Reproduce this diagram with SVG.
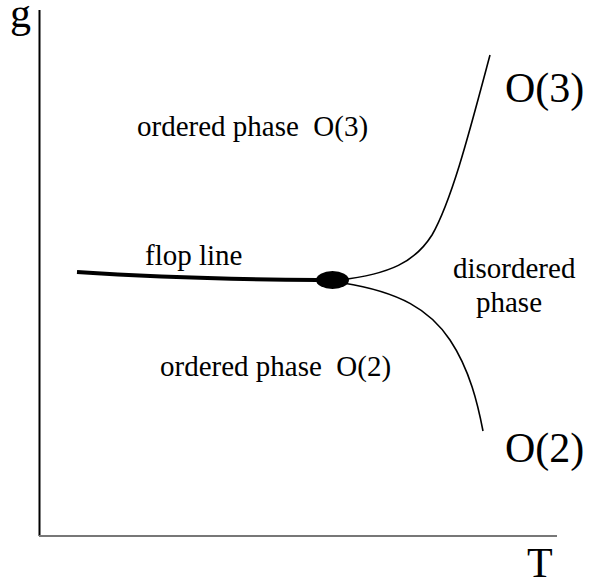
<svg xmlns="http://www.w3.org/2000/svg" width="592" height="582" viewBox="0 0 592 582">
<style>
text{font-family:"Liberation Serif","Times New Roman",serif;fill:#000;white-space:pre}
.s{font-size:29px}
.b{font-size:42px}
.ln{fill:none;stroke:#000}
</style>
<rect width="592" height="582" fill="#fff"/>
<g id="axes">
<line class="ln" x1="39.5" y1="10" x2="39.5" y2="536" stroke-width="2"/>
<line x1="39" y1="536" x2="557" y2="536" stroke="#777" stroke-width="2"/>
<text id="g-label" class="b" x="10" y="27">g</text>
<text id="T-label" class="b" x="527" y="577">T</text>
</g>
<g id="connectors">
<path id="flop" class="ln" stroke-width="4" d="M77,272 Q180,279 318,280"/>
<path id="o3line" class="ln" stroke-width="1.6" d="M340,280 C390,274 415,262 432,235 C452,200 470,130 490,55"/>
<path id="o2line" class="ln" stroke-width="1.6" d="M343,283 C400,292 430,310 450,340 C470,370 478,405 483,431"/>
</g>
<g id="point">
<ellipse cx="332.5" cy="280" rx="16.5" ry="9" fill="#000"/>
</g>
<g id="labels">
<text class="s" x="137" y="136" xml:space="preserve">ordered phase  O(3)</text>
<text class="s" x="145" y="265">flop line</text>
<text class="s" x="160" y="376" xml:space="preserve">ordered phase  O(2)</text>
<text class="s" x="453" y="278">disordered</text>
<text class="s" x="476" y="312">phase</text>
<text class="b" x="505" y="102">O(3)</text>
<text class="b" x="505" y="462">O(2)</text>
</g>
</svg>
